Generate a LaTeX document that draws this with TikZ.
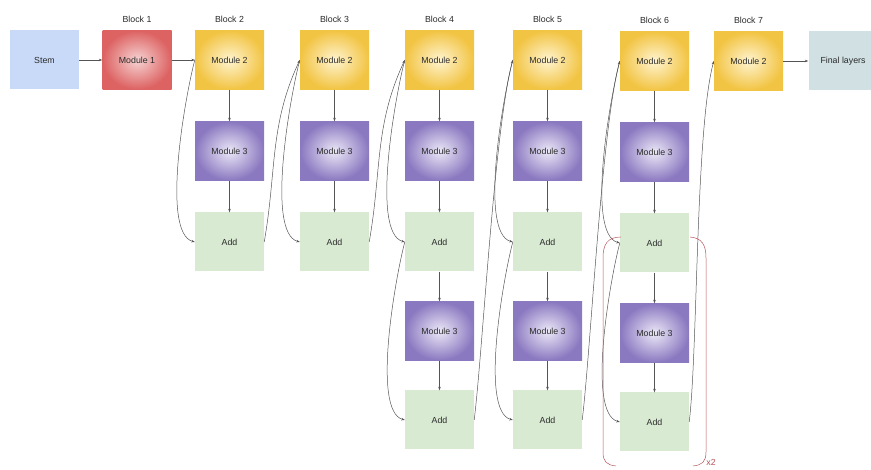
\documentclass[tikz,border=0pt]{standalone}
\usepackage{fontspec}
\setmainfont{Liberation Sans}
\usetikzlibrary{arrows.meta}

\definecolor{stemblue}{HTML}{C9DAF8}
\definecolor{finalblue}{HTML}{D0E0E3}
\definecolor{addgreen}{HTML}{D9EAD3}
\definecolor{redin}{HTML}{F6D3D3}
\definecolor{redout}{HTML}{DD6262}
\definecolor{yelin}{HTML}{FFF4D0}
\definecolor{yelout}{HTML}{F2C443}
\definecolor{purin}{HTML}{ECE8F7}
\definecolor{purout}{HTML}{8A78C0}
\definecolor{txtgray}{HTML}{2A2A2A}
\definecolor{linegray}{HTML}{555555}
\definecolor{bracketred}{HTML}{B5545C}

\begin{document}
\begin{tikzpicture}[x=1pt,y=1pt,
    box/.style={minimum width=69pt,minimum height=59pt,inner sep=0pt,
        font=\fontsize{8.8}{10}\selectfont,text=txtgray},
    stembox/.style={box,fill=stemblue},
    finalbox/.style={box,fill=finalblue},
    modone/.style={box,shading=radial,inner color=redin,outer color=redout},
    modtwo/.style={box,shading=radial,inner color=yelin,outer color=yelout},
    modthree/.style={box,shading=radial,inner color=purin,outer color=purout},
    addbox/.style={box,fill=addgreen},
    blocklabel/.style={font=\fontsize{8.8}{10}\selectfont,text=txtgray},
    link/.style={-{Stealth[length=3.5pt,width=2.5pt]},draw=linegray,line width=0.5pt},
    skipcurve/.style={out=255,in=165,looseness=0.5},
    hopshort/.style={out=80,in=245},
    hoplong/.style={out=83,in=255,looseness=0.5}]

    \useasboundingbox (0,0) rectangle (871,470);

    % block labels
    \node[blocklabel] at (137,451) {Block 1};
    \node[blocklabel] at (229.5,451) {Block 2};
    \node[blocklabel] at (334.5,451) {Block 3};
    \node[blocklabel] at (439.5,451) {Block 4};
    \node[blocklabel] at (547.5,451) {Block 5};
    \node[blocklabel] at (654.5,450) {Block 6};
    \node[blocklabel] at (748.5,450) {Block 7};

    \node[stembox] (stem) at (44.5,410) {Stem};
    \node[modone] (bonem) at (137,410) {Module 1};

    \node[modtwo] (btwom) at (229.5,410) {Module 2};
    \node[modthree] (btwoc) at (229.5,319) {Module 3};
    \node[addbox] (btwoa) at (229.5,228) {Add};

    \node[modtwo] (bthreem) at (334.5,410) {Module 2};
    \node[modthree] (bthreec) at (334.5,319) {Module 3};
    \node[addbox] (bthreea) at (334.5,228) {Add};

    \node[modtwo] (bfourm) at (439.5,410) {Module 2};
    \node[modthree] (bfourc) at (439.5,319) {Module 3};
    \node[addbox] (bfoura) at (439.5,228) {Add};
    \node[modthree] (bfourcc) at (439.5,139) {Module 3};
    \node[addbox] (bfouraa) at (439.5,50) {Add};

    \node[modtwo] (bfivem) at (547.5,410) {Module 2};
    \node[modthree] (bfivec) at (547.5,319) {Module 3};
    \node[addbox] (bfivea) at (547.5,228) {Add};
    \node[modthree] (bfivecc) at (547.5,139) {Module 3};
    \node[addbox] (bfiveaa) at (547.5,50) {Add};

    \node[modtwo] (bsixm) at (654.5,409) {Module 2};
    \node[modthree] (bsixc) at (654.5,318) {Module 3};
    \node[addbox] (bsixa) at (654.5,227) {Add};
    \node[modthree] (bsixcc) at (654.5,137) {Module 3};
    \node[addbox] (bsixaa) at (654.5,48) {Add};

    \node[modtwo] (bsevenm) at (748.5,409) {Module 2};
    \node[finalbox] (final) at (843,409) {Final layers};

    % straight links
    \draw[link] (stem) -- (bonem);
    \draw[link] (bonem) -- (btwom);
    \draw[link] (bsevenm) -- (final);

    \draw[link] (btwom) -- (btwoc);
    \draw[link] (btwoc) -- (btwoa);
    \draw[link] (bthreem) -- (bthreec);
    \draw[link] (bthreec) -- (bthreea);
    \draw[link] (bfourm) -- (bfourc);
    \draw[link] (bfourc) -- (bfoura);
    \draw[link] (bfoura) -- (bfourcc);
    \draw[link] (bfourcc) -- (bfouraa);
    \draw[link] (bfivem) -- (bfivec);
    \draw[link] (bfivec) -- (bfivea);
    \draw[link] (bfivea) -- (bfivecc);
    \draw[link] (bfivecc) -- (bfiveaa);
    \draw[link] (bsixm) -- (bsixc);
    \draw[link] (bsixc) -- (bsixa);
    \draw[link] (bsixa) -- (bsixcc);
    \draw[link] (bsixcc) -- (bsixaa);

    % skip connections
    \draw[link] (btwom.west) to[skipcurve] (btwoa.west);
    \draw[link] (bthreem.west) to[skipcurve] (bthreea.west);
    \draw[link] (bfourm.west) to[skipcurve] (bfoura.west);
    \draw[link] (bfoura.west) to[skipcurve] (bfouraa.west);
    \draw[link] (bfivem.west) to[skipcurve] (bfivea.west);
    \draw[link] (bfivea.west) to[skipcurve] (bfiveaa.west);
    \draw[link] (bsixm.west) to[skipcurve] (bsixa.west);
    \draw[link] (bsixa.west) to[skipcurve] (bsixaa.west);

    % block to block
    \draw[link] (btwoa.east) to[hopshort] (bthreem.west);
    \draw[link] (bthreea.east) to[hopshort] (bfourm.west);
    \draw[link] (bfouraa.east) to[hoplong] (bfivem.west);
    \draw[link] (bfiveaa.east) to[hoplong] (bsixm.west);
    \draw[link] (bsixaa.east) to[hoplong] (bsevenm.west);

    % repeat bracket
    \draw[bracketred,line width=0.5pt] (621,233) .. controls (607,233) and (603,225) .. (603,212)
        -- (603,18) .. controls (603,8) and (607,5) .. (616,4);
    \draw[bracketred,line width=0.5pt] (690,233) .. controls (702,232) and (706,225) .. (706,212)
        -- (706,18) .. controls (706,8) and (702,5) .. (693,4);
    \node[text=bracketred,font=\fontsize{8.8}{10}\selectfont] (times) at (711,8) {x2};

\end{tikzpicture}
\end{document}
